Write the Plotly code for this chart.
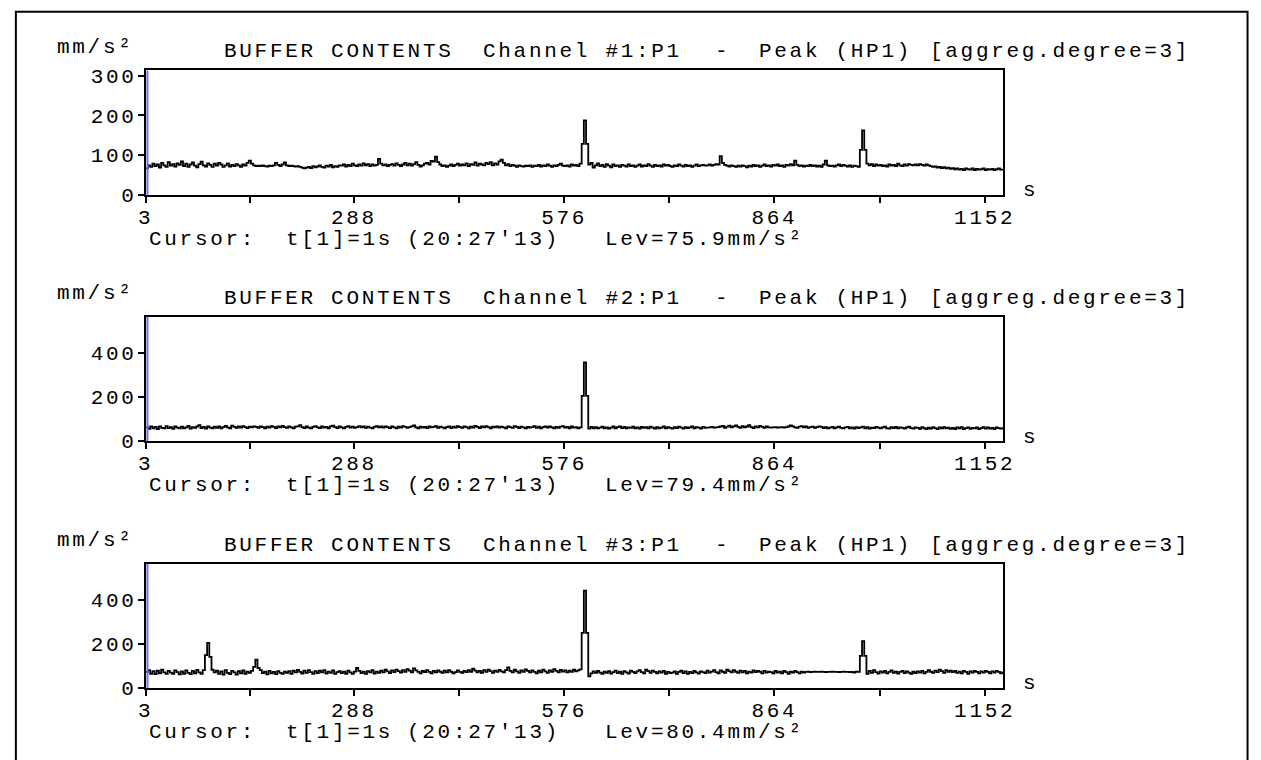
import plotly.graph_objects as go

# Peak values (mm/s²), aggregation degree 3 -> one sample every 3 s, first at t = 3 s
t_start = 3
t_step = 3

ch1_peak = [
    66, 74, 70, 78, 72, 76, 68, 80, 74, 70, 82, 73, 77, 71, 79, 75,
    84, 72, 78, 70, 76, 81, 73, 69, 77, 83, 74, 71, 79, 75, 70, 78,
    73, 80, 76, 70, 74, 79, 71, 75, 72, 77, 74, 70, 76, 73, 80, 86,
    78, 74, 72, 73, 72, 74, 72, 71, 73, 72, 74, 80, 75, 72, 76, 81,
    74, 72, 73, 72, 71, 72, 70, 68, 66, 68, 70, 67, 72, 69, 71, 74,
    70, 68, 73, 71, 75, 69, 72, 70, 74, 73, 76, 71, 75, 72, 78, 74,
    72, 76, 73, 79, 74, 77, 72, 76, 73, 75, 90, 78, 74, 76, 72, 75,
    77, 73, 79, 75, 72, 76, 80, 74, 78, 73, 77, 82, 75, 71, 74, 78,
    80, 76, 85, 83, 96, 82, 76, 72, 74, 70, 73, 76, 72, 75, 78, 73,
    76, 74, 79, 72, 77, 75, 81, 73, 78, 76, 74, 80, 77, 82, 74, 79,
    76, 84, 88, 80, 74, 77, 72, 75, 73, 70, 74, 72, 71, 73, 72, 74,
    70, 73, 72, 75, 71, 74, 72, 76, 73, 70, 74, 72, 75, 78, 73, 72,
    74, 71, 76, 73, 75, 72, 78, 128, 187, 128, 76, 80, 68, 74, 79, 72,
    75, 70, 77, 73, 69, 76, 72, 74, 70, 75, 73, 71, 76, 72, 74, 70,
    73, 76, 71, 74, 72, 77, 73, 70, 75, 72, 74, 71, 76, 73, 75, 72,
    70, 74, 72, 76, 73, 71, 75, 72, 74, 70, 73, 76, 72, 74, 75, 73,
    74, 76, 73, 75, 77, 76, 97, 80, 75, 73, 71, 74, 72, 70, 73, 71,
    74, 72, 69, 73, 71, 75, 72, 74, 70, 73, 76, 72, 74, 71, 75, 73,
    76, 72, 74, 70, 75, 73, 77, 74, 86, 75, 72, 74, 71, 73, 72, 75,
    72, 74, 71, 73, 70, 76, 86, 74, 72, 73, 71, 74, 76, 72, 75, 73,
    71, 74, 70, 73, 72, 70, 113, 162, 113, 78, 74, 77, 72, 76, 73, 75,
    72, 74, 71, 76, 73, 75, 72, 78, 74, 72, 76, 73, 77, 75, 74, 76,
    74, 77, 75, 73, 76, 74, 72, 70, 71, 68, 70, 67, 69, 66, 68, 65,
    67, 64, 66, 63, 65, 62, 66, 64, 63, 66, 62, 65, 63, 64, 66, 62,
    64, 63, 65, 62, 64, 66, 63, 65,
]

ch2_peak = [
    62, 55, 67, 58, 64, 54, 66, 60, 57, 68, 59, 63, 55, 66, 61, 57,
    65, 58, 62, 69, 56, 63, 60, 66, 72, 59, 64, 56, 67, 61, 58, 65,
    60, 66, 57, 63, 69, 62, 58, 70, 64, 60, 66, 61, 68, 63, 59, 65,
    62, 67, 64, 60, 66, 63, 58, 65, 61, 68, 64, 59, 66, 62, 69, 63,
    60, 66, 62, 58, 65, 67, 72, 63, 59, 66, 61, 57, 64, 68, 62, 59,
    66, 61, 64, 58, 67, 70, 63, 59, 66, 62, 57, 64, 68, 61, 65, 60,
    63, 68, 62, 66, 60, 65, 61, 57, 64, 68, 62, 66, 61, 67, 63, 59,
    66, 62, 58, 65, 61, 68, 64, 60, 63, 67, 71, 62, 58, 65, 61, 64,
    59, 66, 62, 64, 68, 60, 65, 62, 58, 63, 67, 59, 65, 61, 68, 63,
    60, 67, 63, 57, 65, 61, 69, 64, 59, 66, 62, 68, 63, 58, 65, 62,
    67, 61, 65, 62, 58, 66, 63, 60, 68, 64, 59, 65, 62, 57, 64, 61,
    63, 68, 60, 65, 58, 63, 67, 61, 66, 62, 57, 64, 60, 65, 68, 61,
    64, 58, 66, 61, 63, 57, 62, 205, 358, 205, 56, 64, 58, 63, 57, 61,
    65, 58, 62, 56, 61, 66, 58, 63, 67, 59, 64, 57, 62, 60, 65, 58,
    62, 56, 64, 60, 63, 57, 65, 61, 56, 63, 58, 61, 66, 58, 63, 60,
    56, 63, 59, 65, 61, 56, 63, 59, 62, 66, 58, 63, 61, 56, 64, 60,
    61, 62, 64, 61, 62, 63, 66, 69, 60, 65, 70, 62, 67, 71, 64, 60,
    68, 62, 66, 72, 63, 59, 67, 62, 69, 64, 60, 66, 62, 61, 62, 63,
    61, 62, 63, 61, 63, 66, 71, 67, 62, 60, 65, 68, 62, 66, 60, 63,
    65, 60, 63, 67, 64, 59, 63, 58, 61, 64, 58, 62, 65, 60, 57, 62,
    64, 58, 62, 56, 63, 59, 62, 65, 58, 63, 56, 61, 59, 64, 61, 57,
    62, 65, 58, 56, 63, 59, 64, 57, 62, 60, 56, 62, 65, 59, 56, 62,
    60, 55, 63, 58, 54, 61, 56, 63, 59, 54, 62, 57, 63, 58, 61, 55,
    60, 54, 62, 57, 63, 54, 59, 62, 55, 60, 57, 62, 54, 59, 63, 56,
    62, 56, 60, 54, 62, 59, 56, 63,
]

ch3_peak = [
    72, 80, 64, 76, 62, 78, 66, 82, 70, 63, 77, 69, 64, 79, 71, 61,
    75, 64, 79, 68, 62, 77, 66, 81, 70, 64, 80, 148, 204, 140, 82, 70,
    78, 63, 75, 60, 80, 68, 62, 77, 70, 60, 76, 66, 79, 64, 74, 68,
    77, 95, 128, 90, 80, 67, 73, 61, 77, 66, 72, 62, 76, 68, 63, 74,
    68, 76, 63, 78, 70, 81, 72, 65, 78, 68, 80, 71, 63, 76, 67, 78,
    70, 80, 65, 74, 68, 79, 63, 71, 76, 67, 74, 64, 78, 70, 63, 74,
    90, 77, 67, 73, 63, 76, 70, 80, 65, 74, 68, 78, 70, 82, 75, 67,
    79, 71, 83, 76, 69, 80, 73, 85, 78, 70, 88, 79, 72, 66, 77, 71,
    80, 72, 66, 77, 70, 79, 73, 68, 78, 70, 80, 73, 66, 71, 79, 72,
    68, 77, 71, 80, 73, 87, 78, 70, 77, 68, 80, 72, 83, 76, 68, 78,
    72, 81, 75, 70, 80, 93, 77, 70, 83, 75, 68, 79, 72, 84, 77, 70,
    79, 72, 66, 78, 70, 83, 75, 68, 79, 72, 85, 77, 70, 81, 74, 79,
    70, 78, 72, 82, 75, 79, 84, 249, 441, 249, 52, 66, 75, 68, 77, 69,
    64, 73, 68, 76, 65, 71, 78, 67, 73, 64, 76, 70, 65, 78, 72, 67,
    75, 80, 71, 66, 83, 76, 68, 78, 72, 66, 75, 69, 77, 64, 72, 67,
    69, 75, 64, 72, 78, 67, 75, 63, 72, 67, 77, 70, 65, 75, 71, 67,
    78, 69, 74, 80, 71, 66, 79, 73, 68, 82, 76, 70, 80, 73, 68, 78,
    70, 77, 66, 74, 69, 79, 71, 77, 73, 66, 77, 69, 74, 71, 66, 77,
    69, 74, 66, 77, 71, 64, 74, 69, 77, 71, 66, 74, 69, 72, 74, 71,
    72, 73, 72, 72, 73, 72, 71, 72, 72, 73, 72, 72, 71, 72, 73, 72,
    72, 71, 72, 69, 74, 72, 145, 212, 145, 64, 77, 68, 80, 71, 65, 75,
    69, 77, 66, 72, 79, 68, 74, 65, 72, 77, 67, 75, 69, 64, 73, 67,
    75, 69, 77, 66, 72, 80, 73, 68, 78, 71, 83, 76, 68, 80, 73, 78,
    71, 77, 68, 74, 66, 77, 72, 64, 75, 69, 77, 72, 66, 75, 69, 77,
    72, 66, 75, 69, 77, 72, 66, 74,
]

channel_names = ["Channel #1:P1", "Channel #2:P1", "Channel #3:P1"]
cursor_levels = ["75.9", "79.4", "80.4"]
y_max = [313, 565, 563]
y_ticks = [[0, 100, 200, 300], [0, 200, 400], [0, 200, 400]]
x_ticks = [3, 145.5, 288, 432, 576, 720, 864, 1008, 1152]
x_ticktext = ["3", "", "288", "", "576", "", "864", "", "1152"]
x_range = [3, 1177]

W, H = 1261, 760
FONT = "Liberation Mono"
FSIZE = 21
SPACING = 2.7
plot_left, plot_right = 140, 1011
panel_tops = [68, 320, 572.5]
panel_h = 127


def sp(s):
    return f"<span style='letter-spacing:{SPACING}px'>{s}</span>"


def px(x):
    return x / W


def py(y):
    return 1 - y / H


fig = go.Figure()
annotations = []
shapes = []

for k, vals in enumerate([ch1_peak, ch2_peak, ch3_peak]):
    n = k + 1
    sfx = "" if n == 1 else str(n)
    times = [t_start + t_step * i for i in range(len(vals))]
    fig.add_trace(go.Scatter(
        x=times, y=vals, mode="lines",
        line=dict(color="black", width=1.8, shape="hv"),
        xaxis="x" + sfx, yaxis="y" + sfx, hoverinfo="skip",
    ))
    top = panel_tops[k]
    axis_common = dict(showgrid=False, zeroline=False, showline=True, mirror=True,
                       linecolor="black", linewidth=2, ticks="outside", ticklen=6,
                       tickwidth=2, tickcolor="black",
                       tickfont=dict(family=FONT, size=FSIZE, color="black"))
    fig.layout["xaxis" + sfx] = dict(
        domain=[px(plot_left), px(plot_right)], anchor="y" + sfx, range=x_range,
        tickvals=x_ticks, ticktext=[sp(t) for t in x_ticktext], ticklabelstandoff=-4,
        **axis_common)
    fig.layout["yaxis" + sfx] = dict(
        domain=[py(top + panel_h), py(top)], anchor="x" + sfx, range=[0, y_max[k]],
        tickvals=y_ticks[k], ticktext=[sp(str(v)) for v in y_ticks[k]],
        ticklabelstandoff=-3, **axis_common)

    # cursor at the left edge
    shapes.append(dict(type="line", xref="x" + sfx + " domain", yref="y" + sfx + " domain",
                       x0=0.002, x1=0.002, y0=0, y1=1,
                       line=dict(color="#7070f0", width=2)))

    def ann(text, x, y, xanchor="left"):
        annotations.append(dict(text=sp(text), x=px(x), y=py(y), xref="paper", yref="paper",
                                xanchor=xanchor, yanchor="middle", showarrow=False,
                                font=dict(family=FONT, size=FSIZE, color="black")))

    ann("mm/s²", 48, top - 24)
    ann("BUFFER CONTENTS", 217, top - 19)
    ann(channel_names[k], 481, top - 19)
    ann("-", 716, top - 19)
    ann("Peak (HP1)", 761, top - 19)
    ann("[aggreg.degree=3]", 935, top - 19)
    ann("s", 1029, top + 123)
    ann("Cursor:", 141, top + 173)
    ann("t[1]=1s", 280, top + 173)
    ann("(20:27'13)", 403, top + 173)
    ann(f"Lev={cursor_levels[k]}mm/s²", 605, top + 173)

# outer frame
shapes.append(dict(type="rect", xref="paper", yref="paper",
                   x0=px(8), x1=px(1259.5), y0=-0.05, y1=py(8),
                   line=dict(color="black", width=2)))

fig.update_layout(
    width=W, height=H, margin=dict(l=0, r=0, t=0, b=0),
    paper_bgcolor="white", plot_bgcolor="white", showlegend=False,
    annotations=annotations, shapes=shapes,
)

# the page body has a default 8px margin; drop it so the figure fills the window
fig.write_html("out.html", config={"displayModeBar": False},
               post_script="document.body.style.margin='0';")
